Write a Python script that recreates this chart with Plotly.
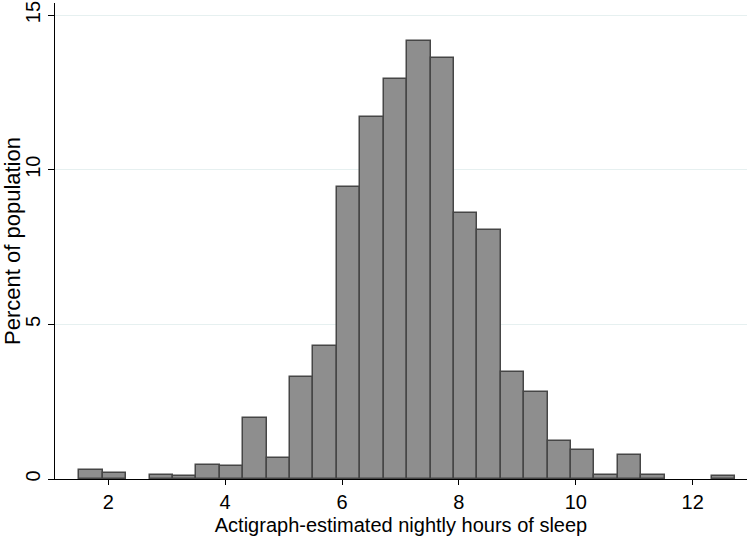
import plotly.graph_objects as go

# Histogram: 28 bins of equal width
bin_start = 1.504
bin_end = 12.724
percent = [0.29, 0.18, 0.0, 0.12, 0.11, 0.46, 0.43, 1.96, 0.69, 3.30,
           4.30, 9.44, 11.69, 12.94, 14.17, 13.61, 8.60, 8.06, 3.47, 2.81,
           1.22, 0.93, 0.12, 0.77, 0.12, 0.0, 0.0, 0.10]
x_ticks = [2, 4, 6, 8, 10, 12]
y_ticks = [0, 5, 10, 15]

n = len(percent)
w = (bin_end - bin_start) / n
centers = [bin_start + w * (i + 0.5) for i in range(n)]
heights = [v if v > 0 else None for v in percent]

fig = go.Figure(go.Bar(
    x=centers, y=heights, width=[w] * n,
    marker=dict(color="#8e8e8e", line=dict(color="#464646", width=1.5)),
    hoverinfo="x+y",
))

font_family = "Liberation Sans, Arial, Helvetica, sans-serif"
fig.update_layout(
    width=750, height=536,
    margin=dict(l=55, r=3, t=3, b=57),
    paper_bgcolor="white", plot_bgcolor="white",
    font=dict(family=font_family, size=18, color="black"),
    showlegend=False, bargap=0,
)
fig.update_xaxes(
    range=[1.088, 12.93], tickvals=x_ticks, automargin=False,
    tickfont=dict(size=20),
    ticks="outside", ticklen=5, tickcolor="black", tickwidth=1,
    showline=True, linecolor="black", linewidth=1,
    showgrid=False, zeroline=False,
    title=dict(text="Actigraph-estimated nightly hours of sleep", font=dict(size=20)),
)
fig.update_yaxes(
    range=[0, 15.39], tickvals=y_ticks, tickangle=-90, automargin=False,
    tickfont=dict(size=20),
    ticks="outside", ticklen=6, tickcolor="black", tickwidth=1,
    showline=True, linecolor="black", linewidth=1,
    showgrid=True, gridcolor="#e6f0f0", gridwidth=1, zeroline=False,
    title=dict(text="Percent of population", font=dict(size=22)),
)

fig.write_html("out.html", config={"displayModeBar": False},
               post_script="document.body.style.margin='0px';")
